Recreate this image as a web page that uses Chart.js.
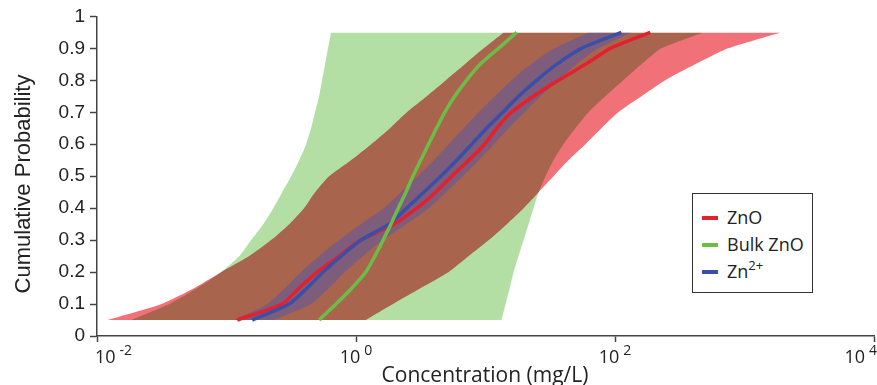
<!DOCTYPE html>
<html><head><meta charset="utf-8">
<script src="https://cdn.jsdelivr.net/npm/chart.js@4.4.1/dist/chart.umd.min.js"></script>
<style>
html,body{margin:0;padding:0;background:#fff;}
#wrap{position:relative;width:877px;height:385px;overflow:hidden;}
#legend{position:absolute;left:692px;top:193px;width:121px;height:100px;border:1.5px solid #333;box-sizing:border-box;font-family:'Open Sans';font-size:18px;color:#222;background:#fff;}
.row{position:absolute;left:0;height:26px;line-height:26px;width:100%;}
.sw{position:absolute;left:9px;top:12px;width:16px;height:3.5px;}
.lb{position:absolute;left:34px;white-space:nowrap;}
.lb sup{font-size:13px;vertical-align:0;position:relative;top:-8px;}
</style></head>
<body><div id="wrap"><canvas id="c" width="877" height="385"></canvas><div id="legend"></div></div>
<script>
// cumulative probability levels
const probLevels = [0.05,0.10,0.15,0.20,0.25,0.30,0.35,0.40,0.45,0.50,0.55,0.60,0.65,0.70,0.75,0.80,0.85,0.90,0.95];
// concentrations in mg/L
const znoMedian  = [0.121,0.269,0.364,0.501,0.74,1.09,1.96,2.95,4.13,5.49,7.42,9.86,12.2,15.9,23.5,36.6,59.1,92.2,187];
const znoLower   = [0.0121,0.0315,0.0565,0.0912,0.150,0.221,0.305,0.397,0.483,0.620,0.915,1.31,1.83,2.47,3.52,4.94,6.92,9.68,13.8];
const znoUpper   = [1.19,1.93,3.17,5.20,7.42,10.6,14.6,19.7,25.7,33.5,43.7,59.1,78.5,106,160,244,416,747,1910];
const bulkMedian = [0.519,0.701,0.931,1.19,1.40,1.62,1.86,2.12,2.43,2.75,3.16,3.63,4.18,4.85,5.78,7.13,9.08,12.6,17.4];
const bulkLower  = [0.0185,0.0362,0.0596,0.0912,0.126,0.155,0.192,0.230,0.269,0.316,0.364,0.412,0.450,0.483,0.519,0.547,0.577,0.608,0.641];
const bulkUpper  = [13.3,14.3,15.4,16.5,18.0,19.7,21.5,23.5,25.7,29.1,33.5,40.0,49.5,62.4,84.3,116,160,228,480];
const ionMedian  = [0.158,0.305,0.419,0.557,0.766,1.09,1.80,2.47,3.34,4.52,6.00,7.83,10.2,13.6,18.0,24.8,35.4,55.1,112];
const ionLower   = [0.115,0.206,0.284,0.377,0.519,0.740,1.09,1.64,2.22,3.00,3.99,5.20,6.79,8.86,11.8,15.9,22.3,34.1,62.4];
const ionUpper   = [0.234,0.450,0.620,0.823,1.13,1.61,2.43,3.65,4.94,6.67,8.86,11.6,15.1,20.0,26.6,36.6,50.4,74.5,134];

const seriesNames = ['ZnO','Bulk ZnO','Zn<sup>2+</sup>'];
const xTickValues = [0.01,1,100,10000];
const xTickExponents = ['-2','0','2','4'];
const yTickValues = [0,0.1,0.2,0.3,0.4,0.5,0.6,0.7,0.8,0.9,1];
const yTickLabels = ['0','0.1','0.2','0.3','0.4','0.5','0.6','0.7','0.8','0.9','1'];

const colRed = '#e4202c', colGreen = '#6cbd48', colBlue = '#3a4fa6';
const pts = xs => xs.map((x,i)=>({x:x, y:probLevels[i]}));
const edge = (xs, fill, bg, order, multiply) => ({data:pts(xs), fill:fill, backgroundColor:bg, borderColor:'transparent', borderWidth:0, pointRadius:0, tension:0.2, order:order, blendMultiply:multiply});
const curve = (xs, col, order) => ({data:pts(xs), fill:false, borderColor:col, borderWidth:3.5, borderCapStyle:'butt', borderJoinStyle:'round', pointRadius:0, tension:0.2, order:order});

// legend
const leg = document.getElementById('legend');
[colRed,colGreen,colBlue].forEach((c,i)=>{
  const r = document.createElement('div'); r.className='row'; r.style.top=(10+i*27)+'px';
  r.innerHTML = '<span class="sw" style="background:'+c+'"></span><span class="lb">'+seriesNames[i]+'</span>';
  leg.appendChild(r);
});

function setOpForNext(chart, meta){
  const metas = chart.getSortedVisibleDatasetMetas();
  const idx = meta ? metas.indexOf(meta) - 1 : metas.length - 1;
  const next = metas[idx];
  chart.ctx.globalCompositeOperation = (next && chart.data.datasets[next.index].blendMultiply) ? 'multiply' : 'source-over';
}
const blendPlugin = {
  id:'blend',
  beforeDatasetsDraw(chart){ setOpForNext(chart, null); },
  beforeDatasetDraw(chart){ chart.ctx.globalCompositeOperation = 'source-over'; },
  afterDatasetDraw(chart, args){ setOpForNext(chart, args.meta); },
  afterDatasetsDraw(chart){ chart.ctx.globalCompositeOperation = 'source-over'; }
};
const textPlugin = {
  id:'texts',
  afterDraw(chart){
    const ctx = chart.ctx, xs = chart.scales.x;
    ctx.save();
    ctx.fillStyle = '#222';
    ctx.textBaseline = 'alphabetic';
    xTickValues.forEach((v,i)=>{
      ctx.font = '18px "Open Sans"';
      const w1 = ctx.measureText('10').width;
      ctx.font = '14px "Open Sans"';
      const w2 = ctx.measureText(xTickExponents[i]).width;
      const w = w1 + 4 + w2;
      let left = xs.getPixelForValue(v) - w/2;
      left = Math.max(95, Math.min(877 - w, left));
      ctx.font = '18px "Open Sans"';
      ctx.textAlign = 'left';
      ctx.fillText('10', left, 363);
      ctx.font = '14px "Open Sans"';
      ctx.fillText(xTickExponents[i], left + w1 + 4, 355);
    });
    ctx.font = '21px "Open Sans"';
    ctx.textAlign = 'center';
    ctx.fillText('Concentration (mg/L)', 485, 382);
    ctx.translate(30, 184);
    ctx.rotate(-Math.PI/2);
    ctx.font = '22px "Liberation Sans"';
    ctx.fillText('Cumulative Probability', 0, 0);
    ctx.restore();
  }
};

new Chart(document.getElementById('c'), {
  type:'line',
  data:{ datasets:[
    edge(znoLower, '+1', '#f07278', 10, true),
    edge(znoUpper, false, 'transparent', 10, true),
    edge(bulkLower, '+1', '#b3dfa4', 9, true),
    edge(bulkUpper, false, 'transparent', 9, true),
    edge(ionLower, '+1', 'rgba(70,80,190,0.42)', 8, false),
    edge(ionUpper, false, 'transparent', 8, false),
    curve(znoMedian, colRed, 3),
    curve(ionMedian, colBlue, 2),
    curve(bulkMedian, colGreen, 1)
  ]},
  plugins:[blendPlugin, textPlugin],
  options:{
    responsive:false, animation:false, indexAxis:'y',
    layout:{padding:{top:16,right:2,left:0,bottom:0}},
    plugins:{legend:{display:false}, tooltip:{enabled:false}, filler:{drawTime:'beforeDatasetDraw', propagate:false}},
    scales:{
      x:{type:'logarithmic', min:0.01, max:10000, position:'bottom',
        afterBuildTicks:s=>{ s.ticks = xTickValues.map(v=>({value:v})); },
        afterFit:s=>{ s.height = 49; },
        ticks:{callback:()=>'', autoSkip:false, maxRotation:0},
        grid:{drawOnChartArea:false, tickLength:6, color:'#444', tickWidth:1.5},
        border:{color:'#444', width:1.5}},
      y:{type:'linear', min:0, max:1, position:'left',
        afterBuildTicks:s=>{ s.ticks = yTickValues.map(v=>({value:v})); },
        afterFit:s=>{ s.width = 97; },
        ticks:{callback:(v,i)=>yTickLabels[i], font:{family:'Liberation Sans', size:19}, color:'#222', padding:5, autoSkip:false},
        grid:{drawOnChartArea:false, tickLength:7, color:'#444', tickWidth:1.5},
        border:{color:'#444', width:1.5}}
    }
  }
});
</script>
</body></html>
